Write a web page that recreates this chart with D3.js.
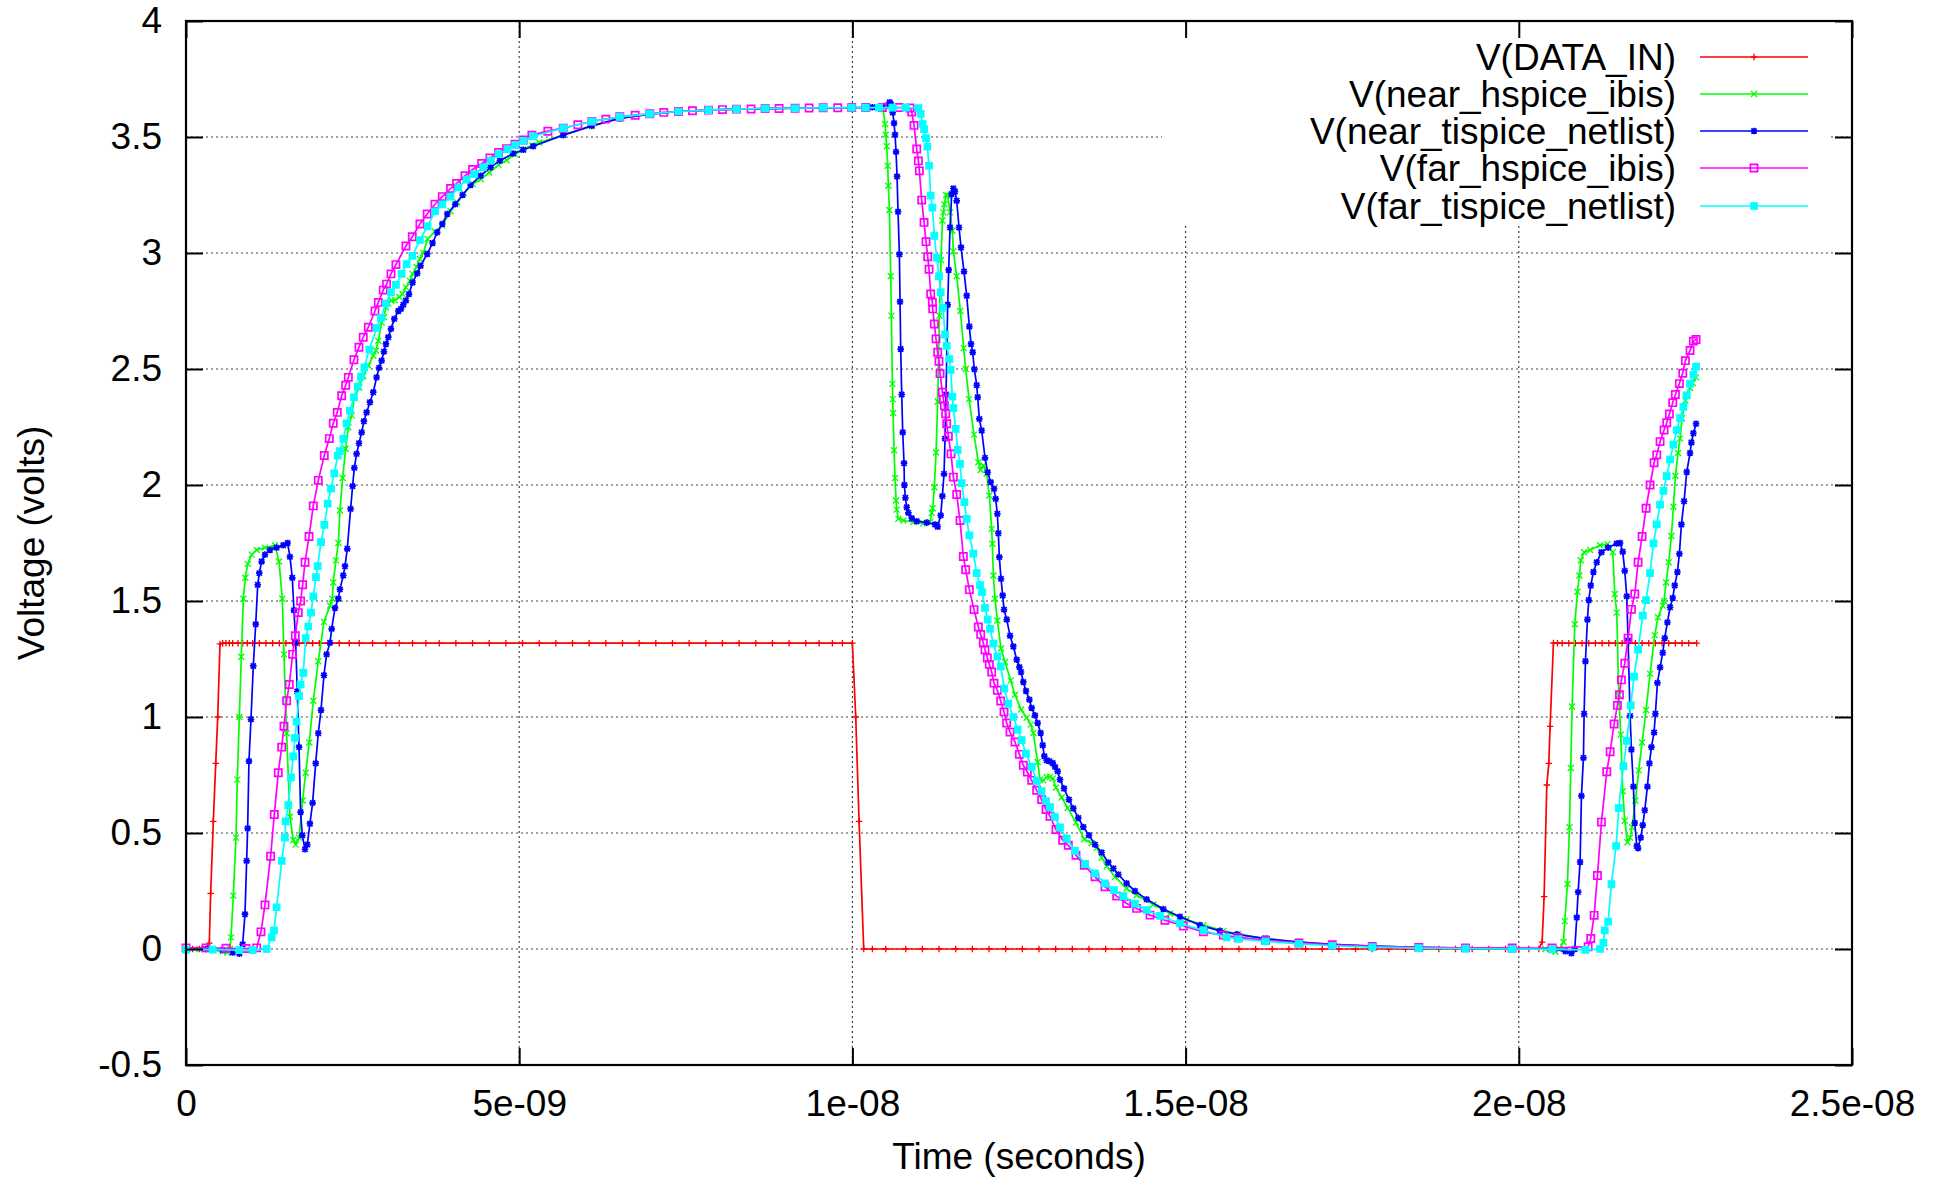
<!DOCTYPE html>
<html>
<head>
<meta charset="utf-8">
<script src="https://cdn.jsdelivr.net/npm/d3@7"></script>
<style>
  html, body { margin: 0; padding: 0; background: #fff; }
  svg { display: block; }
  text { font-family: "Liberation Sans", Arial, Helvetica, sans-serif; fill: #000; }
</style>
</head>
<body>
<svg id="chart" width="1944" height="1182"></svg>
<script>
// ---------------- data (time in ns, voltage in V) ----------------
const xTickValues = [0, 5e-9, 1e-8, 1.5e-8, 2e-8, 2.5e-8];
const xTickLabels = ["0", "5e-09", "1e-08", "1.5e-08", "2e-08", "2.5e-08"];
const yTickValues = [-0.5, 0, 0.5, 1, 1.5, 2, 2.5, 3, 3.5, 4];
const yTickLabels = ["-0.5", "0", "0.5", "1", "1.5", "2", "2.5", "3", "3.5", "4"];

const seriesNames = ["V(DATA_IN)", "V(near_hspice_ibis)", "V(near_tispice_netlist)", "V(far_hspice_ibis)", "V(far_tispice_netlist)"];
const seriesColors = ["#ff0000", "#00ff00", "#0000ff", "#ff00ff", "#00ffff"];
const seriesMarkers = ["plus", "cross", "star", "openSquare", "filledSquare"];

const dataIn = [[0,0],[0.1,0],[0.2,0],[0.3,0],[0.35,0.025],[0.37,0.24],[0.41,0.55],[0.446,0.8],[0.476,1.0],[0.51,1.315],
[0.55,1.318],[0.6,1.318],[0.65,1.318],[0.7,1.318],[0.78,1.318],[0.85,1.318],[0.92,1.318],[1.0,1.318],[1.1,1.318],[1.2,1.318],
[1.3,1.318],[1.4,1.318],[1.5,1.318],[1.6,1.318],[1.7,1.318],[1.8,1.318],[1.9,1.318],[2.0,1.318],[2.15,1.318],[2.3,1.318],
[2.45,1.318],[2.6,1.318],[2.8,1.318],[3.0,1.318],[3.2,1.318],[3.4,1.318],[3.6,1.318],[3.8,1.318],[4.05,1.318],[4.3,1.318],
[4.55,1.318],[4.8,1.318],[5.05,1.318],[5.3,1.318],[5.55,1.318],[5.8,1.318],[6.05,1.318],[6.3,1.318],[6.55,1.318],[6.8,1.318],
[7.05,1.318],[7.3,1.318],[7.55,1.318],[7.8,1.318],[8.05,1.318],[8.3,1.318],[8.55,1.318],[8.8,1.318],[9.05,1.318],[9.3,1.318],
[9.5,1.318],[9.7,1.318],[9.85,1.318],[10.0,1.318],[10.05,1.0],[10.1,0.55],[10.17,0],
[10.3,0],[10.5,0],[10.8,0],[11.05,0],[11.3,0],[11.55,0],[11.8,0],[12.05,0],[12.3,0],[12.55,0],[12.8,0],[13.05,0],[13.3,0],
[13.55,0],[13.8,0],[14.05,0],[14.3,0],[14.55,0],[14.8,0],[15.05,0],[15.3,0],[15.55,0],[15.8,0],[16.05,0],[16.3,0],[16.55,0],
[16.8,0],[17.05,0],[17.3,0],[17.55,0],[17.8,0],[18.05,0],[18.3,0],[18.55,0],[18.8,0],[19.05,0],[19.3,0],[19.55,0],[19.8,0],
[20.0,0],[20.15,0],[20.3,0],[20.35,0.03],[20.38,0.226],[20.42,0.707],
[20.45,0.80],[20.47,0.96],[20.52,1.319],[20.58,1.318],[20.65,1.318],[20.75,1.318],[20.85,1.318],[20.95,1.318],[21.05,1.318],
[21.15,1.318],[21.25,1.318],[21.35,1.318],[21.45,1.318],[21.55,1.318],[21.65,1.318],[21.75,1.318],[21.85,1.318],[21.95,1.318],
[22.05,1.318],[22.15,1.318],[22.25,1.318],[22.35,1.318],[22.45,1.318],[22.55,1.318],[22.67,1.318]];

const nearHspice = [[0,0],[0.2,0],[0.4,-0.005],[0.55,-0.01],[0.62,-0.015],[0.66,0],[0.675,0.05],[0.71,0.23],[0.75,0.48],
[0.77,0.73],[0.80,1.0],[0.83,1.26],[0.86,1.51],[0.89,1.6],[0.926,1.66],[0.986,1.70],[1.06,1.72],[1.185,1.73],[1.336,1.74],
[1.396,1.67],[1.445,1.51],[1.47,1.27],[1.51,0.93],[1.56,0.57],[1.61,0.47],[1.646,0.45],[1.696,0.48],[1.75,0.64],[1.796,0.76],
[1.85,0.89],[1.91,1.07],[1.985,1.24],[2.07,1.41],[2.16,1.48],[2.195,1.51],[2.21,1.58],[2.25,1.675],[2.286,1.75],[2.31,1.89],
[2.35,2.03],[2.396,2.156],[2.436,2.249],[2.486,2.30],[2.526,2.378],[2.60,2.42],[2.66,2.47],[2.736,2.515],[2.81,2.557],
[2.85,2.58],[2.886,2.622],[2.936,2.70],[2.97,2.723],[3.00,2.766],[3.036,2.783],[3.086,2.795],[3.136,2.797],[3.20,2.81],
[3.25,2.823],[3.30,2.852],[3.36,2.88],[3.40,2.91],[3.46,2.94],[3.51,2.974],[3.56,3.00],[3.626,3.06],[3.736,3.093],
[3.846,3.118],[3.97,3.18],[4.07,3.218],[4.17,3.257],[4.30,3.297],[4.426,3.318],[4.55,3.347],[4.69,3.38],[4.81,3.40],
[4.937,3.426],[5.06,3.445],[5.19,3.465],[5.30,3.476],[5.66,3.508],[6.09,3.548],[6.51,3.58],[6.96,3.598],[7.39,3.61],
[7.84,3.616],[8.26,3.62],[8.69,3.622],[9.14,3.624],[9.56,3.625],[9.99,3.626],[10.2,3.626],[10.46,3.62],[10.49,3.556],
[10.50,3.51],[10.515,3.46],[10.53,3.376],[10.54,3.29],[10.555,3.185],[10.575,2.90],[10.585,2.73],[10.60,2.436],[10.605,2.37],
[10.61,2.31],[10.625,2.15],[10.64,2.03],[10.655,1.933],[10.665,1.894],[10.69,1.854],[10.765,1.847],[10.915,1.84],
[11.065,1.835],[11.165,1.84],[11.19,1.88],[11.205,1.90],[11.23,1.99],[11.255,2.14],[11.28,2.36],[11.305,2.73],[11.33,2.97],
[11.35,3.14],[11.365,3.175],[11.38,3.21],[11.405,3.25],[11.43,3.247],[11.465,3.175],[11.50,3.096],[11.515,3.007],
[11.565,2.90],[11.62,2.75],[11.67,2.59],[11.70,2.50],[11.75,2.37],[11.825,2.217],[11.89,2.098],[11.925,2.065],
[11.965,2.084],[12.015,2.048],[12.055,1.955],[12.09,1.811],[12.10,1.747],[12.115,1.61],[12.14,1.51],[12.175,1.416],
[12.23,1.295],[12.29,1.237],[12.375,1.158],[12.44,1.096],[12.53,1.032],[12.615,0.997],[12.675,0.967],[12.715,0.931],
[12.78,0.806],[12.815,0.73],[12.865,0.727],[12.915,0.742],[12.965,0.742],[13.006,0.735],[13.055,0.696],[13.14,0.653],
[13.23,0.608],[13.355,0.545],[13.48,0.473],[13.59,0.457],[13.665,0.436],[13.74,0.394],[13.816,0.357],[13.94,0.311],
[14.115,0.261],[14.266,0.232],[14.516,0.192],[14.766,0.153],[15.016,0.127],[15.266,0.103],[15.566,0.078],[15.79,0.064],
[16.2,0.045],[16.7,0.03],[17.2,0.02],[17.8,0.012],[18.5,0.007],[19.2,0.004],[19.9,0.002],[20.4,0.0],[20.55,-0.012],
[20.61,0],[20.67,0.03],[20.69,0.12],[20.73,0.28],[20.76,0.525],[20.78,0.78],[20.80,1.045],[20.84,1.40],[20.88,1.54],
[20.91,1.61],[20.93,1.676],[20.98,1.71],[21.07,1.72],[21.22,1.74],[21.33,1.745],[21.41,1.71],[21.44,1.53],[21.47,1.45],
[21.50,1.096],[21.53,0.924],[21.56,0.68],[21.59,0.553],[21.63,0.46],[21.67,0.48],[21.70,0.525],[21.75,0.64],[21.80,0.77],
[21.85,0.89],[21.91,1.03],[21.97,1.187],[22.04,1.353],[22.09,1.43],[22.16,1.48],[22.18,1.50],[22.21,1.58],[22.25,1.667],
[22.29,1.78],[22.32,1.906],[22.35,2.04],[22.39,2.138],[22.42,2.20],[22.45,2.288],[22.50,2.364],[22.57,2.418],[22.61,2.44],
[22.66,2.464]];

const nearTispice = [[0,0],[0.3,0],[0.55,-0.005],[0.7,-0.015],[0.8,-0.02],[0.85,0.02],[0.885,0.15],[0.91,0.38],[0.925,0.52],
[0.945,0.81],[0.975,0.99],[1.01,1.22],[1.046,1.40],[1.076,1.57],[1.10,1.62],[1.135,1.67],[1.185,1.70],[1.26,1.72],[1.36,1.73],
[1.46,1.74],[1.525,1.75],[1.56,1.69],[1.595,1.60],[1.62,1.46],[1.646,1.32],[1.67,1.11],[1.696,0.87],[1.72,0.59],[1.745,0.49],
[1.786,0.43],[1.82,0.45],[1.86,0.54],[1.90,0.63],[1.946,0.80],[1.985,0.93],[2.026,1.03],[2.07,1.18],[2.11,1.27],[2.16,1.32],
[2.186,1.38],[2.236,1.47],[2.285,1.51],[2.31,1.55],[2.36,1.61],[2.386,1.65],[2.42,1.725],[2.47,1.897],[2.50,1.995],
[2.526,2.074],[2.56,2.134],[2.596,2.18],[2.636,2.227],[2.67,2.275],[2.71,2.313],[2.76,2.357],[2.81,2.40],[2.86,2.464],
[2.896,2.505],[2.936,2.536],[2.97,2.575],[3.00,2.608],[3.036,2.637],[3.076,2.673],[3.126,2.716],[3.186,2.75],[3.226,2.759],
[3.26,2.777],[3.30,2.795],[3.346,2.823],[3.40,2.873],[3.47,2.912],[3.52,2.945],[3.62,2.996],[3.70,3.043],[3.77,3.089],
[3.846,3.125],[3.92,3.168],[4.04,3.21],[4.15,3.25],[4.27,3.293],[4.42,3.333],[4.57,3.369],[4.71,3.398],[4.91,3.429],
[5.06,3.445],[5.21,3.46],[5.66,3.508],[6.09,3.548],[6.51,3.58],[6.96,3.598],[7.39,3.61],[7.84,3.616],[8.26,3.62],
[8.69,3.622],[9.14,3.624],[9.56,3.625],[9.99,3.626],[10.3,3.628],[10.5,3.635],[10.56,3.65],[10.58,3.64],[10.605,3.605],
[10.625,3.56],[10.64,3.51],[10.655,3.436],[10.67,3.33],[10.685,3.178],[10.705,2.994],[10.715,2.79],[10.725,2.586],
[10.74,2.39],[10.755,2.227],[10.775,2.094],[10.78,2.00],[10.795,1.945],[10.815,1.904],[10.84,1.88],[10.89,1.857],
[10.965,1.844],[11.115,1.838],[11.24,1.83],[11.28,1.82],[11.325,1.869],[11.35,1.952],[11.375,2.048],[11.39,2.20],
[11.405,2.39],[11.43,2.777],[11.445,2.927],[11.465,3.11],[11.49,3.254],[11.515,3.278],[11.54,3.265],[11.565,3.225],
[11.60,3.11],[11.63,3.024],[11.675,2.92],[11.715,2.816],[11.755,2.683],[11.78,2.608],[11.805,2.572],[11.83,2.499],
[11.865,2.43],[11.88,2.378],[11.905,2.285],[11.94,2.235],[11.99,2.117],[12.03,2.055],[12.075,2.012],[12.125,1.984],
[12.15,1.94],[12.175,1.876],[12.19,1.792],[12.205,1.689],[12.23,1.596],[12.255,1.524],[12.275,1.463],[12.316,1.42],
[12.366,1.35],[12.415,1.304],[12.466,1.247],[12.506,1.215],[12.53,1.194],[12.565,1.151],[12.605,1.112],[12.656,1.075],
[12.69,1.039],[12.74,1.007],[12.78,0.974],[12.825,0.931],[12.856,0.878],[12.88,0.831],[12.915,0.813],[12.955,0.81],
[13.006,0.802],[13.04,0.785],[13.08,0.766],[13.115,0.73],[13.175,0.692],[13.25,0.644],[13.315,0.606],[13.39,0.565],
[13.465,0.526],[13.55,0.49],[13.64,0.45],[13.74,0.416],[13.84,0.373],[13.916,0.347],[13.99,0.321],[14.115,0.283],
[14.24,0.25],[14.415,0.214],[14.666,0.172],[14.916,0.139],[15.215,0.103],[15.515,0.078],[15.77,0.063],[16.2,0.045],
[16.7,0.03],[17.2,0.02],[17.8,0.012],[18.5,0.007],[19.2,0.004],[19.9,0.002],[20.5,0.0],[20.7,-0.01],[20.79,-0.018],
[20.84,0],[20.87,0.136],[20.89,0.245],[20.92,0.375],[20.94,0.66],[20.97,0.824],[20.98,1.014],[21.00,1.24],[21.03,1.42],
[21.05,1.504],[21.08,1.567],[21.12,1.625],[21.17,1.667],[21.24,1.71],[21.34,1.73],[21.47,1.748],[21.52,1.75],[21.56,1.712],
[21.59,1.63],[21.62,1.52],[21.64,1.33],[21.67,1.005],[21.69,0.86],[21.72,0.70],[21.74,0.543],[21.77,0.444],[21.79,0.435],
[21.83,0.48],[21.86,0.534],[21.89,0.598],[21.93,0.70],[21.96,0.80],[21.99,0.87],[22.03,0.933],[22.05,1.014],[22.08,1.147],
[22.12,1.214],[22.16,1.277],[22.19,1.34],[22.23,1.408],[22.27,1.473],[22.31,1.513],[22.34,1.567],[22.38,1.625],[22.41,1.703],
[22.44,1.83],[22.48,1.93],[22.52,2.056],[22.57,2.138],[22.59,2.183],[22.62,2.223],[22.66,2.264]];

const farHspice = [[0,0.005],[0.3,0.005],[0.6,0.003],[0.9,0.002],[1.06,0.005],[1.125,0.074],[1.185,0.19],[1.27,0.40],
[1.325,0.58],[1.385,0.76],[1.436,0.87],[1.47,0.96],[1.51,1.07],[1.55,1.14],[1.60,1.27],[1.64,1.35],[1.685,1.45],[1.72,1.50],
[1.75,1.57],[1.786,1.667],[1.846,1.778],[1.91,1.91],[1.985,2.02],[2.075,2.127],[2.15,2.20],[2.21,2.266],[2.27,2.313],
[2.336,2.385],[2.396,2.43],[2.436,2.464],[2.52,2.54],[2.596,2.594],[2.66,2.637],[2.736,2.68],[2.836,2.75],[2.886,2.787],
[2.96,2.84],[3.01,2.866],[3.076,2.91],[3.15,2.95],[3.30,3.03],[3.396,3.07],[3.51,3.125],[3.62,3.168],[3.736,3.21],
[3.846,3.243],[3.97,3.278],[4.06,3.30],[4.187,3.333],[4.30,3.36],[4.436,3.386],[4.56,3.41],[4.69,3.433],[4.81,3.45],
[4.937,3.469],[5.06,3.487],[5.19,3.508],[5.43,3.525],[5.66,3.538],[5.88,3.553],[6.09,3.567],[6.3,3.577],[6.51,3.587],
[6.74,3.594],[6.96,3.60],[7.17,3.606],[7.39,3.61],[7.6,3.613],[7.84,3.616],[8.05,3.618],[8.26,3.62],[8.48,3.621],
[8.69,3.623],[8.9,3.623],[9.14,3.624],[9.35,3.625],[9.56,3.626],[9.78,3.626],[9.99,3.627],[10.2,3.627],[10.45,3.627],
[10.7,3.627],[10.865,3.625],[10.89,3.608],[10.925,3.55],[10.965,3.448],[10.99,3.397],[11.005,3.354],[11.04,3.228],
[11.075,3.132],[11.105,3.049],[11.13,2.984],[11.15,2.93],[11.175,2.823],[11.20,2.787],[11.205,2.759],[11.23,2.694],
[11.255,2.63],[11.28,2.572],[11.30,2.533],[11.315,2.48],[11.35,2.40],[11.365,2.37],[11.38,2.342],[11.40,2.307],
[11.415,2.264],[11.44,2.21],[11.48,2.134],[11.515,2.034],[11.565,1.959],[11.615,1.847],[11.665,1.692],[11.70,1.635],
[11.755,1.549],[11.825,1.463],[11.89,1.388],[11.925,1.356],[11.965,1.319],[11.99,1.29],[12.025,1.254],[12.055,1.227],
[12.09,1.194],[12.125,1.146],[12.175,1.115],[12.225,1.069],[12.275,1.022],[12.315,0.974],[12.365,0.935],[12.44,0.892],
[12.506,0.839],[12.565,0.792],[12.625,0.763],[12.69,0.727],[12.765,0.684],[12.84,0.644],[12.905,0.601],[12.965,0.572],
[13.055,0.515],[13.155,0.469],[13.24,0.447],[13.355,0.404],[13.48,0.361],[13.64,0.311],[13.79,0.268],[13.966,0.228],
[14.115,0.196],[14.266,0.175],[14.466,0.146],[14.69,0.124],[14.966,0.099],[15.266,0.074],[15.566,0.06],[15.79,0.05],
[16.2,0.038],[16.7,0.026],[17.2,0.018],[17.8,0.011],[18.5,0.007],[19.2,0.005],[19.9,0.004],[20.5,0.004],[21.04,0.01],
[21.08,0.045],[21.13,0.145],[21.18,0.317],[21.24,0.547],[21.32,0.764],[21.37,0.85],[21.43,0.97],[21.48,1.05],[21.51,1.096],
[21.54,1.16],[21.59,1.232],[21.64,1.34],[21.69,1.464],[21.74,1.53],[21.79,1.667],[21.85,1.778],[21.91,1.90],[21.97,2.00],
[22.03,2.096],[22.07,2.13],[22.12,2.187],[22.18,2.237],[22.22,2.268],[22.26,2.306],[22.31,2.355],[22.35,2.39],[22.41,2.437],
[22.46,2.482],[22.50,2.536],[22.57,2.58],[22.62,2.62],[22.66,2.627]];

const farTispice = [[0,-0.003],[0.4,-0.003],[0.8,-0.005],[1.0,-0.005],[1.21,0],[1.286,0.05],[1.32,0.08],[1.36,0.18],
[1.436,0.38],[1.485,0.48],[1.496,0.55],[1.535,0.62],[1.575,0.74],[1.61,0.83],[1.636,0.91],[1.66,0.98],[1.696,1.09],
[1.72,1.14],[1.76,1.19],[1.796,1.34],[1.835,1.39],[1.876,1.45],[1.91,1.52],[1.95,1.603],[1.976,1.65],[2.026,1.754],
[2.076,1.828],[2.126,1.92],[2.176,1.984],[2.226,2.05],[2.276,2.127],[2.31,2.146],[2.36,2.199],[2.41,2.266],[2.46,2.32],
[2.52,2.378],[2.576,2.424],[2.626,2.467],[2.676,2.507],[2.75,2.584],[2.86,2.677],[2.926,2.72],[3.00,2.783],[3.076,2.83],
[3.15,2.863],[3.236,2.91],[3.31,2.952],[3.396,2.988],[3.51,3.056],[3.626,3.115],[3.736,3.18],[3.846,3.21],[3.97,3.243],
[4.086,3.283],[4.21,3.316],[4.326,3.34],[4.46,3.37],[4.57,3.398],[4.69,3.426],[4.826,3.448],[4.94,3.465],[5.06,3.483],
[5.21,3.503],[5.66,3.538],[6.09,3.567],[6.51,3.587],[6.96,3.60],[7.39,3.61],[7.84,3.616],[8.26,3.62],[8.69,3.623],
[9.14,3.624],[9.56,3.626],[9.99,3.627],[10.2,3.627],[10.4,3.627],[10.6,3.627],[10.8,3.627],[10.99,3.625],[11.025,3.60],
[11.055,3.556],[11.075,3.534],[11.105,3.495],[11.125,3.458],[11.15,3.376],[11.175,3.247],[11.20,3.196],[11.23,3.074],
[11.265,2.98],[11.30,2.90],[11.325,2.83],[11.36,2.763],[11.39,2.648],[11.415,2.60],[11.455,2.543],[11.475,2.496],
[11.50,2.381],[11.515,2.331],[11.55,2.242],[11.58,2.151],[11.615,2.091],[11.64,2.008],[11.68,1.926],[11.715,1.854],
[11.755,1.783],[11.815,1.704],[11.865,1.62],[11.915,1.568],[11.945,1.538],[11.99,1.47],[12.03,1.42],[12.065,1.38],
[12.115,1.316],[12.175,1.26],[12.225,1.218],[12.28,1.122],[12.34,1.058],[12.415,1.00],[12.48,0.946],[12.54,0.90],
[12.605,0.842],[12.69,0.785],[12.765,0.724],[12.84,0.681],[12.905,0.638],[12.965,0.612],[13.04,0.569],[13.115,0.524],
[13.215,0.476],[13.34,0.423],[13.49,0.366],[13.64,0.326],[13.79,0.283],[13.925,0.254],[14.066,0.228],[14.24,0.196],
[14.415,0.168],[14.616,0.143],[14.916,0.11],[15.266,0.081],[15.616,0.05],[15.79,0.043],[16.2,0.033],[16.7,0.022],
[17.2,0.014],[17.8,0.008],[18.5,0.004],[19.2,0.002],[19.9,0.0],[20.5,-0.002],[21.0,-0.004],[21.22,0],[21.27,0.027],
[21.29,0.08],[21.34,0.118],[21.39,0.28],[21.46,0.444],[21.50,0.607],[21.57,0.788],[21.62,0.897],[21.68,1.05],[21.73,1.174],
[21.79,1.29],[21.86,1.437],[21.91,1.504],[21.97,1.62],[22.02,1.748],[22.07,1.83],[22.12,1.915],[22.17,1.975],[22.22,2.038],
[22.27,2.11],[22.32,2.174],[22.37,2.237],[22.42,2.288],[22.47,2.337],[22.52,2.386],[22.57,2.437],[22.62,2.476],[22.66,2.51]];

const seriesData = [dataIn, nearHspice, nearTispice, farHspice, farTispice];

// ---------------- layout ----------------
const L = 186, R = 1852, T = 21, B = 1065;
const svg = d3.select("#chart");
const x = d3.scaleLinear().domain([0, 2.5e-8]).range([L, R]);
const y = d3.scaleLinear().domain([-0.5, 4]).range([B, T]);

// grid
const grid = svg.append("g").attr("stroke", "#444").attr("stroke-width", 1.2).attr("stroke-dasharray", "2,3");
grid.selectAll("line.h").data(yTickValues.filter(v => v > -0.5 && v < 4)).join("line")
  .attr("x1", L).attr("x2", R).attr("y1", d => y(d)).attr("y2", d => y(d));
grid.selectAll("line.v").data(xTickValues.filter(v => v > 0 && v < 2.5e-8)).join("line")
  .attr("x1", d => x(d)).attr("x2", d => x(d)).attr("y1", T).attr("y2", B);

// legend background (key box is opaque in the original)
svg.append("rect").attr("x", 1162).attr("y", T + 1).attr("width", 1828 - 1162).attr("height", 223 - T - 1).attr("fill", "#fff");

// markers
function markerPath(type) {
  switch (type) {
    case "plus": return "M-3.2,0H3.2M0,-3.2V3.2";
    case "cross": return "M-3,-3L3,3M-3,3L3,-3";
    case "star": return "M-3.3,0H3.3M0,-3.3V3.3M-2.6,-2.6L2.6,2.6M-2.6,2.6L2.6,-2.6";
    case "openSquare": return "M-3.6,-3.6H3.6V3.6H-3.6Z";
    case "filledSquare": return "M-3.2,-3.2H3.2V3.2H-3.2Z";
  }
}
function drawMarker(sel, type, color) {
  sel.attr("d", markerPath(type))
    .attr("fill", type === "filledSquare" || type === "star" ? color : "none")
    .attr("stroke", color)
    .attr("stroke-width", type === "star" ? 1.7 : (type === "openSquare" ? 1.7 : 1.3));
}

const line = d3.line().x(d => x(d[0] * 1e-9)).y(d => y(d[1]));
const plot = svg.append("g");
seriesData.forEach((data, i) => {
  const g = plot.append("g");
  g.append("path").datum(data).attr("d", line).attr("fill", "none")
    .attr("stroke", seriesColors[i]).attr("stroke-width", 1.7).attr("stroke-linejoin", "round");
  g.selectAll("path.m").data(data).join("path").attr("class", "m")
    .attr("transform", d => `translate(${x(d[0] * 1e-9)},${y(d[1])})`)
    .call(drawMarker, seriesMarkers[i], seriesColors[i]);
});

// axes with inward ticks on all four sides
const fs = 37;
const axB = svg.append("g").attr("transform", `translate(0,${B})`)
  .call(d3.axisBottom(x).tickValues(xTickValues).tickFormat((d, i) => xTickLabels[i]).tickSizeInner(-17).tickSizeOuter(0).tickPadding(25));
const axT = svg.append("g").attr("transform", `translate(0,${T})`)
  .call(d3.axisTop(x).tickValues(xTickValues).tickFormat("").tickSizeInner(-17).tickSizeOuter(0));
const axLft = svg.append("g").attr("transform", `translate(${L},0)`)
  .call(d3.axisLeft(y).tickValues(yTickValues).tickFormat((d, i) => yTickLabels[i]).tickSizeInner(-17).tickSizeOuter(0).tickPadding(24));
const axRgt = svg.append("g").attr("transform", `translate(${R},0)`)
  .call(d3.axisRight(y).tickValues(yTickValues).tickFormat("").tickSizeInner(-17).tickSizeOuter(0));
[axB, axT, axLft, axRgt].forEach(a => {
  a.select(".domain").remove();
  a.selectAll(".tick line").attr("stroke", "#000").attr("stroke-width", 2);
  a.selectAll(".tick text").attr("font-size", fs).attr("font-family", "'Liberation Sans', Arial, sans-serif").attr("fill", "#000");
});

// border
svg.append("rect").attr("x", L).attr("y", T).attr("width", R - L).attr("height", B - T)
  .attr("fill", "none").attr("stroke", "#000").attr("stroke-width", 2.2);

// axis titles
svg.append("text").attr("x", (L + R) / 2).attr("y", 1169).attr("text-anchor", "middle").attr("font-size", fs).text("Time (seconds)");
svg.append("text").attr("transform", `translate(44,${(T + B) / 2}) rotate(-90)`).attr("text-anchor", "middle").attr("font-size", fs).text("Voltage (volts)");

// legend
const legRows = [57, 94, 131, 168, 206];
const leg = svg.append("g");
seriesNames.forEach((name, i) => {
  const ry = legRows[i];
  leg.append("text").attr("x", 1676).attr("y", ry).attr("dy", "0.36em").attr("text-anchor", "end").attr("font-size", fs).text(name);
  leg.append("line").attr("x1", 1700).attr("x2", 1808).attr("y1", ry).attr("y2", ry)
    .attr("stroke", seriesColors[i]).attr("stroke-width", 1.7);
  leg.append("path").attr("transform", `translate(1754,${ry})`).call(drawMarker, seriesMarkers[i], seriesColors[i]);
});
</script>
</body>
</html>
